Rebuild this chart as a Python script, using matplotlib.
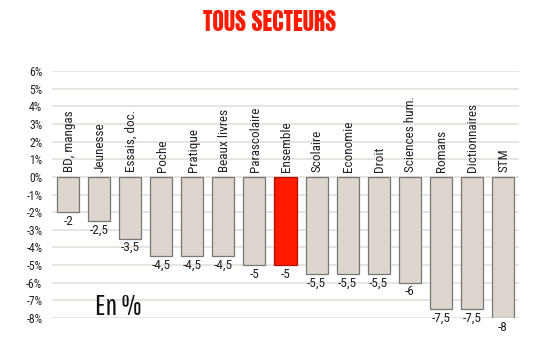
import matplotlib
matplotlib.use("Agg")
import matplotlib.pyplot as plt
import numpy as np

categories = ["BD, mangas", "Jeunesse", "Essais, doc.", "Poche", "Pratique",
              "Beaux livres", "Parascolaire", "Ensemble", "Scolaire", "Economie",
              "Droit", "Sciences hum.", "Romans", "Dictionnaires", "STM"]
values = [-2, -2.5, -3.5, -4.5, -4.5, -4.5, -5, -5, -5.5, -5.5, -5.5, -6, -7.5, -7.5, -8]
value_labels = ["-2", "-2,5", "-3,5", "-4,5", "-4,5", "-4,5", "-5", "-5",
                "-5,5", "-5,5", "-5,5", "-6", "-7,5", "-7,5", "-8"]
highlight = "Ensemble"
yticks = list(range(-8, 7))

plt.rcParams['font.family'] = ['Roboto Condensed', 'DejaVu Sans']

fig = plt.figure(figsize=(5.4, 3.6), dpi=100)
ax = fig.add_axes([52/540, 42/360, 467/540, 247/360])

x = np.arange(len(categories))
colors = ["#ff1a00" if c == highlight else "#dcd6cf" for c in categories]
edges = ["#b01000" if c == highlight else "#7a7672" for c in categories]
ax.bar(x, values, width=0.71, color=colors, edgecolor=edges, linewidth=0.9, zorder=3)

for yv in yticks:
    ax.axhline(yv, color="#e3ddd6", linewidth=1.1, zorder=1)

for xi, name, v, lab in zip(x, categories, values, value_labels):
    ax.text(xi + 0.03, 0.25, name, rotation=90, ha="center", va="bottom",
            fontsize=9.5, color="#222222", zorder=4)
    ax.text(xi, v - 0.15, lab, ha="center", va="top", fontsize=9.5,
            color="#222222", clip_on=False, zorder=4)

ax.set_xlim(-0.52, 14.52)
ax.set_ylim(-8, 6)
ax.set_yticks(yticks)
ax.set_yticklabels([f"{t}%" for t in yticks], fontsize=8.5, color="#222222")
ax.tick_params(axis="y", length=0, pad=7)
ax.set_xticks([])
for s in ax.spines.values():
    s.set_visible(False)

ax.text(1.6, -7.35, "En %", fontsize=21, ha="center", va="center", color="#111111",
        family=['Pathway Gothic One', 'Roboto Condensed', 'DejaVu Sans'])

fig.text(0.5, 0.938, "TOUS SECTEURS", ha="center", va="center", fontsize=17,
         fontweight="bold", color="#ff1a00",
         family=['Anton', 'Oswald', 'Roboto Condensed', 'DejaVu Sans'])

fig.savefig("out.png", dpi=100)
